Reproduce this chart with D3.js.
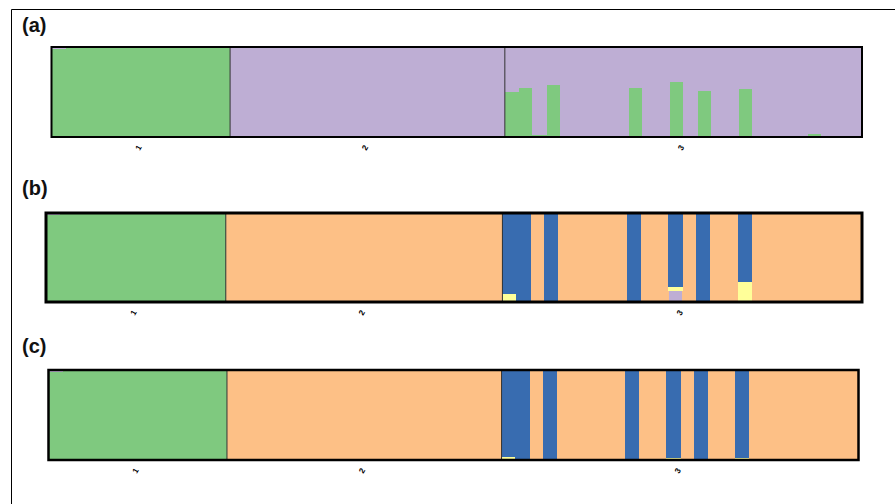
<!DOCTYPE html>
<html lang="en">
<head>
<meta charset="UTF-8">
<script src="https://d3js.org/d3.v7.min.js"></script>
<style>
  body { margin: 0; background: #fff; }
  svg { display: block; font-family: "Liberation Sans", Arial, sans-serif; }
</style>
</head>
<body>
<svg width="895" height="504"></svg>
<script>
// population labels and how many samples each one holds
var popLabels = ["1", "2", "3"];
var popSizes = [13, 20, 26];

// cluster colours (R "Accent" palette), stacked bottom to top in this order
var clusterColors = ["#7fc97f", "#beaed4", "#fdc086", "#ffff99", "#386cb0", "#f0027f"];

// (a) K = 2 : [green, purple]
var qA = [
  [0.98, 0.02], [1, 0], [1, 0], [1, 0], [1, 0], [1, 0], [1, 0], [1, 0], [1, 0], [1, 0], [1, 0], [1, 0], [1, 0],
  [0.01, 0.99], [0.01, 0.99], [0.01, 0.99], [0.01, 0.99], [0.01, 0.99], [0.01, 0.99], [0.01, 0.99], [0.01, 0.99], [0.01, 0.99], [0.01, 0.99],
  [0.01, 0.99], [0.01, 0.99], [0.01, 0.99], [0.01, 0.99], [0.01, 0.99], [0.01, 0.99], [0.01, 0.99], [0.01, 0.99], [0.01, 0.99], [0.01, 0.99],
  [0.50, 0.50], [0.54, 0.46], [0.02, 0.98], [0.58, 0.42], [0.01, 0.99], [0.01, 0.99], [0.01, 0.99], [0.01, 0.99], [0.01, 0.99],
  [0.54, 0.46], [0.01, 0.99], [0.01, 0.99], [0.61, 0.39], [0.01, 0.99], [0.51, 0.49], [0.01, 0.99], [0.01, 0.99],
  [0.53, 0.47], [0.01, 0.99], [0.01, 0.99], [0.01, 0.99], [0.01, 0.99], [0.03, 0.97], [0.01, 0.99], [0.01, 0.99], [0.01, 0.99]
];

// (b) K = 6 : [green, purple, orange, yellow, blue, magenta]
var qB = [
  [0.98, 0.02, 0, 0, 0, 0], [1, 0, 0, 0, 0, 0], [1, 0, 0, 0, 0, 0], [1, 0, 0, 0, 0, 0], [1, 0, 0, 0, 0, 0], [1, 0, 0, 0, 0, 0], [1, 0, 0, 0, 0, 0],
  [1, 0, 0, 0, 0, 0], [1, 0, 0, 0, 0, 0], [1, 0, 0, 0, 0, 0], [1, 0, 0, 0, 0, 0], [1, 0, 0, 0, 0, 0], [1, 0, 0, 0, 0, 0],
  [0, 0, 1, 0, 0, 0], [0, 0, 1, 0, 0, 0], [0, 0, 1, 0, 0, 0], [0, 0, 1, 0, 0, 0], [0, 0, 1, 0, 0, 0], [0, 0, 1, 0, 0, 0], [0, 0, 1, 0, 0, 0],
  [0, 0, 1, 0, 0, 0], [0, 0, 1, 0, 0, 0], [0, 0, 1, 0, 0, 0], [0, 0, 1, 0, 0, 0], [0, 0, 1, 0, 0, 0], [0, 0, 1, 0, 0, 0], [0, 0, 1, 0, 0, 0],
  [0, 0, 1, 0, 0, 0], [0, 0, 1, 0, 0, 0], [0, 0, 1, 0, 0, 0], [0, 0, 1, 0, 0, 0], [0, 0, 1, 0, 0, 0], [0, 0, 1, 0, 0, 0],
  [0, 0, 0, 0.09, 0.895, 0.015], [0, 0, 0, 0, 1, 0], [0, 0, 1, 0, 0, 0], [0, 0.01, 0, 0, 0.99, 0], [0, 0, 1, 0, 0, 0], [0, 0, 1, 0, 0, 0],
  [0, 0, 1, 0, 0, 0], [0, 0, 1, 0, 0, 0], [0, 0, 1, 0, 0, 0], [0, 0, 0, 0, 1, 0], [0, 0, 1, 0, 0, 0], [0, 0, 1, 0, 0, 0],
  [0, 0.12, 0, 0.045, 0.835, 0], [0, 0, 1, 0, 0, 0], [0, 0, 0, 0, 1, 0], [0, 0, 1, 0, 0, 0], [0, 0, 1, 0, 0, 0],
  [0, 0.01, 0, 0.21, 0.78, 0], [0, 0, 1, 0, 0, 0], [0, 0, 1, 0, 0, 0], [0, 0, 1, 0, 0, 0], [0, 0, 1, 0, 0, 0], [0, 0, 1, 0, 0, 0],
  [0, 0, 1, 0, 0, 0], [0, 0, 1, 0, 0, 0], [0, 0, 1, 0, 0, 0]
];

// (c) K = 6 : [green, purple, orange, yellow, blue, magenta]
var qC = [
  [0.98, 0.02, 0, 0, 0, 0], [1, 0, 0, 0, 0, 0], [1, 0, 0, 0, 0, 0], [1, 0, 0, 0, 0, 0], [1, 0, 0, 0, 0, 0], [1, 0, 0, 0, 0, 0], [1, 0, 0, 0, 0, 0],
  [1, 0, 0, 0, 0, 0], [1, 0, 0, 0, 0, 0], [1, 0, 0, 0, 0, 0], [1, 0, 0, 0, 0, 0], [1, 0, 0, 0, 0, 0], [1, 0, 0, 0, 0, 0],
  [0, 0, 1, 0, 0, 0], [0, 0, 1, 0, 0, 0], [0, 0, 1, 0, 0, 0], [0, 0, 1, 0, 0, 0], [0, 0, 1, 0, 0, 0], [0, 0, 1, 0, 0, 0], [0, 0, 1, 0, 0, 0],
  [0, 0, 1, 0, 0, 0], [0, 0, 1, 0, 0, 0], [0, 0, 1, 0, 0, 0], [0, 0, 1, 0, 0, 0], [0, 0, 1, 0, 0, 0], [0, 0, 1, 0, 0, 0], [0, 0, 1, 0, 0, 0],
  [0, 0, 1, 0, 0, 0], [0, 0, 1, 0, 0, 0], [0, 0, 1, 0, 0, 0], [0, 0, 1, 0, 0, 0], [0, 0, 1, 0, 0, 0], [0, 0, 1, 0, 0, 0],
  [0, 0.01, 0, 0.025, 0.95, 0.015], [0, 0, 0, 0, 1, 0], [0, 0, 1, 0, 0, 0], [0, 0.01, 0, 0, 0.99, 0], [0, 0, 1, 0, 0, 0], [0, 0, 1, 0, 0, 0],
  [0, 0, 1, 0, 0, 0], [0, 0, 1, 0, 0, 0], [0, 0, 1, 0, 0, 0], [0, 0, 0, 0, 1, 0], [0, 0, 1, 0, 0, 0], [0, 0, 1, 0, 0, 0],
  [0, 0, 0, 0.02, 0.98, 0], [0, 0, 1, 0, 0, 0], [0, 0, 0, 0, 1, 0], [0, 0, 1, 0, 0, 0], [0, 0, 1, 0, 0, 0],
  [0, 0, 0, 0.025, 0.975, 0], [0, 0, 1, 0, 0, 0], [0, 0, 1, 0, 0, 0], [0, 0, 1, 0, 0, 0], [0, 0, 1, 0, 0, 0], [0, 0, 1, 0, 0, 0],
  [0, 0, 1, 0, 0, 0], [0, 0, 1, 0, 0, 0], [0, 0, 1, 0, 0, 0]
];

var panelTags = ["(a)", "(b)", "(c)"];

// where each panel sits on the page
var panels = [
  {q: qA, tag: panelTags[0], x0: 51.5, x1: 862, y0: 47, y1: 137, tagY: 32, border: 2},
  {q: qB, tag: panelTags[1], x0: 46,   x1: 862, y0: 213, y1: 302, tagY: 195, border: 3},
  {q: qC, tag: panelTags[2], x0: 48.5, x1: 858.5, y0: 370, y1: 460, tagY: 353, border: 2.5}
];

var svg = d3.select("svg");

// outer figure frame (only top and left edges are visible)
svg.append("path")
  .attr("d", "M11.5,504V9.5H895")
  .attr("fill", "none").attr("stroke", "#000").attr("stroke-width", 1);

// start offset of each population
var popStart = d3.cumsum([0].concat(popSizes));
var nSamples = d3.sum(popSizes);

panels.forEach(function(p) {
  var g = svg.append("g");
  var k = p.q[0].length;

  var x = d3.scaleBand().domain(d3.range(nSamples)).range([p.x0, p.x1]).padding(0);
  var y = d3.scaleLinear().domain([0, 1]).range([p.y1, p.y0]);

  var stack = d3.stack().keys(d3.range(k)).value(function(d, key) { return d[key]; });
  var series = stack(p.q);

  g.selectAll("g.layer")
    .data(series)
    .join("g")
      .attr("class", "layer")
      .attr("fill", function(d, i) { return clusterColors[i]; })
      .attr("shape-rendering", "crispEdges")
    .selectAll("rect")
    .data(function(d) { return d.map(function(v, i) { return {v: v, i: i}; }); })
    .join("rect")
      .attr("x", function(d) { return x(d.i); })
      .attr("width", x.bandwidth() + 0.6)
      .attr("y", function(d) { return y(d.v[1]); })
      .attr("height", function(d) { return Math.max(0, y(d.v[0]) - y(d.v[1])); });

  // population separators
  g.selectAll("line.sep")
    .data(popStart.slice(1, -1))
    .join("line")
      .attr("class", "sep")
      .attr("x1", function(d) { return x(d); }).attr("x2", function(d) { return x(d); })
      .attr("y1", p.y0).attr("y2", p.y1)
      .attr("stroke", "#333").attr("stroke-width", 1);

  // panel box
  g.append("rect")
    .attr("x", p.x0).attr("y", p.y0)
    .attr("width", p.x1 - p.x0).attr("height", p.y1 - p.y0)
    .attr("fill", "none").attr("stroke", "#000").attr("stroke-width", p.border);

  // population labels, small and rotated
  g.selectAll("text.pop")
    .data(popLabels)
    .join("text")
      .attr("class", "pop")
      .attr("transform", function(d, i) {
        var cx = (x(popStart[i]) + x(popStart[i + 1] - 1) + x.bandwidth()) / 2;
        return "translate(" + cx + "," + (p.y1 + 12) + ") rotate(-60)";
      })
      .attr("text-anchor", "middle")
      .attr("font-size", 8)
      .attr("font-weight", "bold")
      .attr("fill", "#000")
      .text(function(d) { return d; });

  // panel tag
  svg.append("text")
    .attr("x", 22).attr("y", p.tagY)
    .attr("font-size", 20).attr("font-weight", "bold")
    .attr("fill", "#111")
    .text(p.tag);
});
</script>
</body>
</html>
